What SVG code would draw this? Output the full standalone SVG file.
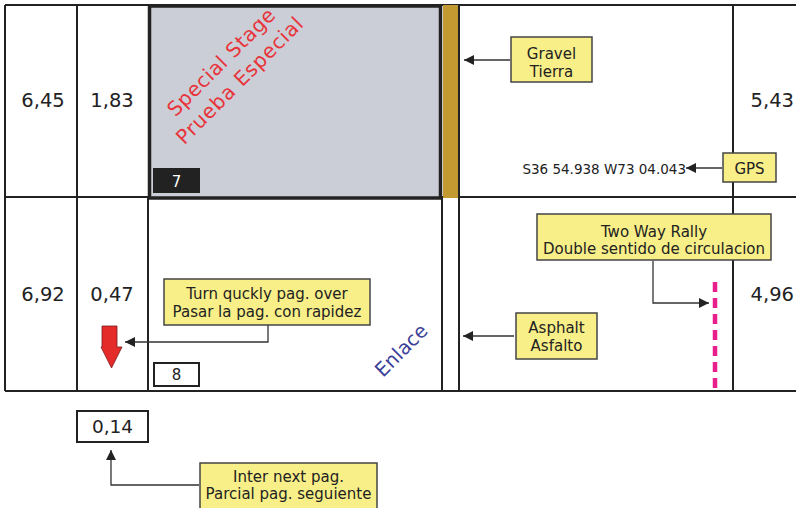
<svg xmlns="http://www.w3.org/2000/svg" width="796" height="508" viewBox="0 0 796 508">
<defs>
<style>
.t{font-family:"DejaVu Sans","Open Sans",sans-serif;fill:#222}
.num{font-size:19.5px}
.lbl{font-size:15px;text-anchor:middle}
.box{fill:#f8ef88;stroke:#444;stroke-width:1.5}
.grid{stroke:#222;stroke-width:2;fill:none}
.con{stroke:#333;stroke-width:1.3;fill:none}
</style>
<marker id="ah" viewBox="0 0 10 10" refX="10" refY="5" markerWidth="10" markerHeight="10" markerUnits="userSpaceOnUse" orient="auto">
<path d="M0,0 L10,5 L0,10 Z" fill="#222"/>
</marker>
</defs>
<rect width="796" height="508" fill="#fff"/>
<g id="grid">
<line class="grid" x1="5" y1="5" x2="796" y2="5" stroke-width="3"/>
<line class="grid" x1="5" y1="197" x2="796" y2="197"/>
<line class="grid" x1="5" y1="391" x2="796" y2="391" stroke-width="2.5"/>
<line class="grid" x1="5" y1="5" x2="5" y2="391"/>
<line class="grid" x1="77" y1="5" x2="77" y2="391"/>
<line class="grid" x1="148" y1="197" x2="148" y2="391"/>
<line class="grid" x1="442" y1="197" x2="442" y2="391"/>
<line class="grid" x1="459" y1="5" x2="459" y2="391"/>
<line class="grid" x1="733" y1="5" x2="733" y2="391"/>
</g>
<g id="special-stage">
<rect x="149.5" y="6" width="291" height="192" fill="#cbced6" stroke="#222" stroke-width="3.5"/>
<rect x="443" y="5" width="15" height="193" fill="#c39a31"/>
<text class="t" transform="translate(226,67) rotate(-45)" text-anchor="middle" font-size="20" style="fill:#e8333a"><tspan x="0" y="0" textLength="143" lengthAdjust="spacing">Special Stage</tspan><tspan x="0" y="26" textLength="170" lengthAdjust="spacing">Prueba Especial</tspan></text>
<rect x="153" y="168" width="47" height="25" fill="#222"/>
<text class="t" x="176.5" y="187" text-anchor="middle" font-size="15" style="fill:#fff">7</text>
</g>
<g id="values">
<text class="t num" x="43" y="107" text-anchor="middle">6,45</text>
<text class="t num" x="112" y="107" text-anchor="middle">1,83</text>
<text class="t num" x="794" y="107" text-anchor="end">5,43</text>
<text class="t num" x="43" y="301" text-anchor="middle">6,92</text>
<text class="t num" x="112" y="301" text-anchor="middle">0,47</text>
<text class="t num" x="794" y="301" text-anchor="end">4,96</text>
</g>
<g id="box8">
<rect x="154" y="363" width="45" height="23" fill="#fff" stroke="#222" stroke-width="2"/>
<text class="t" x="176.5" y="380" text-anchor="middle" font-size="15">8</text>
</g>
<g id="enlace">
<text class="t" transform="translate(406,355) rotate(-45)" text-anchor="middle" font-size="19.5" style="fill:#3b3f99">Enlace</text>
</g>
<g id="red-arrow">
<path d="M102,326 H117 V347 H122 L111.5,368 L101,347 H102 Z" fill="#e52a2a" stroke="#7a1a1a" stroke-width="0.8"/>
</g>
<g id="two-way-line">
<line x1="715" y1="282" x2="715" y2="388" stroke="#e91e8c" stroke-width="4.5" stroke-dasharray="10,6"/>
</g>
<g id="gps-text">
<text class="t" x="686" y="174" text-anchor="end" font-size="13.5">S36 54.938 W73 04.043</text>
</g>
<g id="box014">
<rect x="77" y="411" width="71" height="31" fill="#fff" stroke="#222" stroke-width="2"/>
<text class="t" x="112.5" y="433" text-anchor="middle" font-size="18.5">0,14</text>
</g>
<g id="connectors">
<line class="con" x1="510" y1="60" x2="464" y2="60" marker-end="url(#ah)"/>
<line class="con" x1="722" y1="168" x2="686" y2="168" marker-end="url(#ah)"/>
<polyline class="con" points="653,261 653,303 709,303" marker-end="url(#ah)"/>
<line class="con" x1="514" y1="336" x2="463" y2="336" marker-end="url(#ah)"/>
<polyline class="con" points="268,325 268,342 125,342" marker-end="url(#ah)"/>
<polyline class="con" points="199,485 111,485 111,450" marker-end="url(#ah)"/>
</g>
<g id="gravel">
<rect class="box" x="511" y="37" width="81" height="45"/>
<text class="t lbl" x="551.5" y="59">Gravel</text>
<text class="t lbl" x="551.5" y="77">Tierra</text>
</g>
<g id="gps">
<rect class="box" x="723" y="153" width="53" height="29"/>
<text class="t lbl" x="749.5" y="174">GPS</text>
</g>
<g id="two-way">
<rect class="box" x="537" y="214" width="234" height="46"/>
<text class="t lbl" x="654" y="237">Two Way Rally</text>
<text class="t lbl" x="654" y="254">Double sentido de circulacion</text>
</g>
<g id="asphalt">
<rect class="box" x="516" y="313" width="81" height="46"/>
<text class="t lbl" x="556.5" y="333">Asphalt</text>
<text class="t lbl" x="556.5" y="351">Asfalto</text>
</g>
<g id="turn">
<rect class="box" x="164" y="279" width="206" height="46"/>
<text class="t lbl" x="267" y="299">Turn quckly pag. over</text>
<text class="t lbl" x="267" y="317">Pasar la pag. con rapidez</text>
</g>
<g id="inter">
<rect class="box" x="200" y="463" width="177" height="47"/>
<text class="t lbl" x="288.5" y="482">Inter next pag.</text>
<text class="t lbl" x="288.5" y="499">Parcial pag. seguiente</text>
</g>
</svg>
